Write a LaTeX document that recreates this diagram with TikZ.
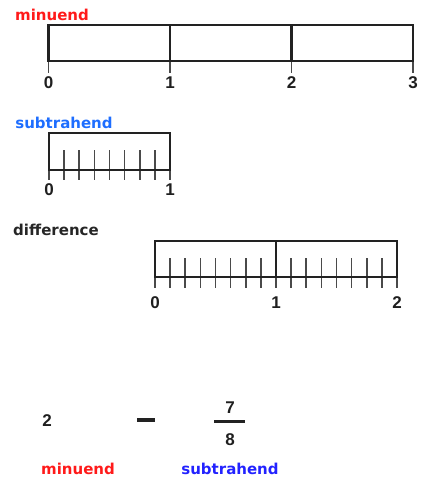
\documentclass[tikz,border=0pt]{standalone}
\usepackage{fontspec}
\setmainfont{DejaVu Sans}
\newfontfamily\digitfont{Liberation Sans Bold}
\definecolor{barc}{HTML}{222222}
\definecolor{tickc}{HTML}{4A4A4A}
\definecolor{redl}{HTML}{FF1A1A}
\definecolor{bluel}{HTML}{1E6EFF}
\definecolor{blued}{HTML}{2222FF}
\begin{document}
\begin{tikzpicture}[x=1pt,y=-1pt,
  bar/.style={draw=barc,line width=2.3pt},
  tk/.style={draw=tickc,line width=1.7pt},
  word/.style={font=\fontsize{15}{15}\selectfont\bfseries,inner sep=0pt},
  num/.style={font=\digitfont\fontsize{17}{17}\selectfont,inner sep=0pt,text=black!88}]
\useasboundingbox (0,0) rectangle (423,482);

% minuend bar
\node[word,text=redl] (lm) at (52,15) {minuend};
\draw[tk] (48.5,61) -- (48.5,73) (170,61) -- (170,73) (291.5,61) -- (291.5,73) (413,61) -- (413,73);
\draw[bar] (48.5,25) rectangle (413,61);
\draw[bar] (170,25) -- (170,61) (291.5,25) -- (291.5,61);
\node[num] (m0) at (48.5,83) {0};
\node[num] (m1) at (170,83) {1};
\node[num] (m2) at (291.5,83) {2};
\node[num] (m3) at (413,83) {3};

% subtrahend bar
\node[word,text=bluel] (ls) at (64,123) {subtrahend};
\foreach \k in {1,...,7} \draw[tk] ({49+\k*121/8},150) -- ({49+\k*121/8},180);
\draw[tk] (49,170) -- (49,180) (170,170) -- (170,180);
\draw[bar] (49,133) rectangle (170,170);
\node[num] (s0) at (49,190) {0};
\node[num] (s1) at (170,190) {1};

% difference bar
\node[word,text=black!85] (ld) at (56,230) {difference};
\foreach \k in {1,...,7,9,10,...,15} \draw[tk] ({155+\k*121/8},258) -- ({155+\k*121/8},288);
\draw[tk] (155,277) -- (155,288) (276,277) -- (276,288) (397,277) -- (397,288);
\draw[bar] (155,241) rectangle (397,277);
\draw[bar] (276,241) -- (276,277);
\node[num] (d0) at (155,303) {0};
\node[num] (d1) at (276,303) {1};
\node[num] (d2) at (397,303) {2};

% equation
\node[num] (two) at (47,421) {2};
\draw[draw=barc,line width=3.6pt] (137,420) -- (155,420);
\node[num] (seven) at (230,408) {7};
\draw[draw=barc,line width=3pt] (214,421) -- (245,421);
\node[num] (eight) at (230,440) {8};
\node[word,text=redl] (bm) at (78,469) {minuend};
\node[word,text=blued] (bs) at (230,469) {subtrahend};
\end{tikzpicture}
\end{document}
